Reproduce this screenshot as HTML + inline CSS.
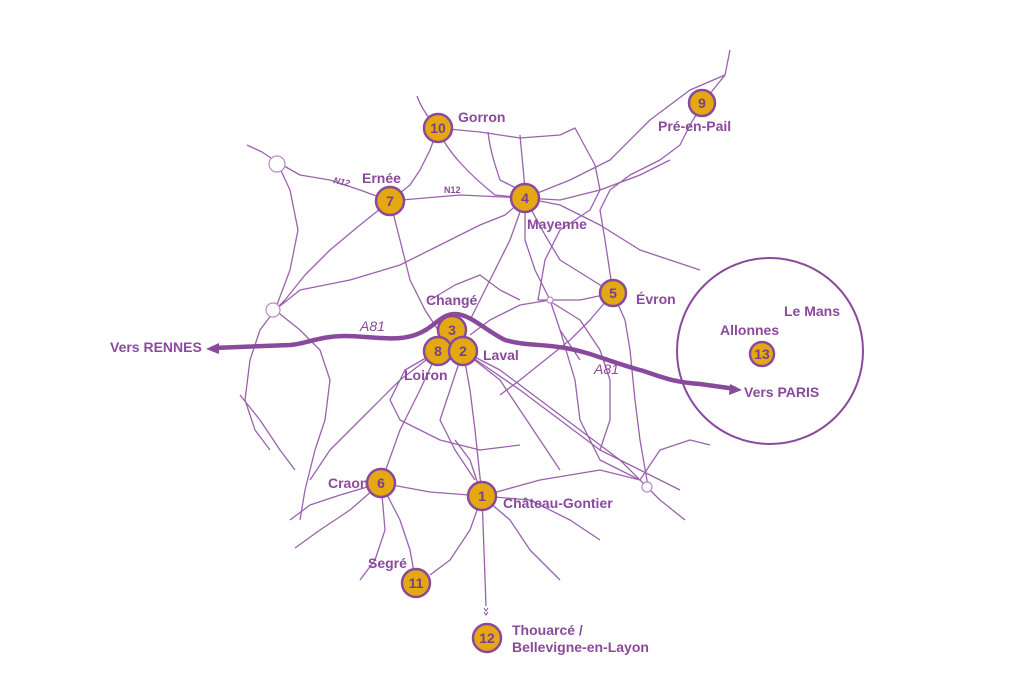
<!DOCTYPE html>
<html><head><meta charset="utf-8"><style>
html,body{margin:0;padding:0;background:#fff;}
svg{display:block}
text{font-family:"Liberation Sans",sans-serif;font-weight:bold;fill:#8a4a9c;}
.r{fill:none;stroke:#9a62ad;stroke-width:1.3;stroke-linejoin:round}
.n circle{fill:#e4a812;stroke:#8a4a9c;stroke-width:2.5}
.n text{fill:#7a3f8c;font-size:14px;text-anchor:middle}
.l{font-size:14px}
</style></head><body>
<svg width="1024" height="678" viewBox="0 0 1024 678">
<g class="r">
<path d="M417,96 C422,110 430,120 438,128"/>
<path d="M438,128 L480,132 L520,138 L560,135 L575,128 L595,165 L600,190 L590,210 L560,230 L545,260 L538,300 L548,300"/>
<path d="M438,128 C445,150 470,175 495,195 L525,198"/>
<path d="M488,132 C490,150 495,165 500,180 L520,190"/>
<path d="M520,135 C522,160 525,180 525,198"/>
<path d="M438,128 L430,150 L420,170 L410,185 L390,201"/>
<path d="M247,145 L262,152 L277,162 L300,175 L330,180 L360,190 L390,201"/>
<path d="M390,201 L460,195 L525,198"/>
<path d="M525,198 L570,180 L610,160 L650,120 L690,90 L725,75 L730,50"/>
<path d="M725,75 L705,100 L690,125 L680,145 L660,160 L630,175 L610,190 L600,210 L605,240 L613,293"/>
<path d="M525,198 L560,200 L600,190 L640,175 L670,160"/>
<path d="M525,198 L560,205 L600,225 L640,250 L670,260 L700,270"/>
<path d="M525,198 L545,235 L560,260 L613,293"/>
<path d="M525,198 L510,240 L490,280 L470,320"/>
<path d="M525,198 L525,240 L535,270 L550,300 L560,330 L580,360"/>
<path d="M525,198 L505,215 L480,225 L440,245 L400,265 L350,280 L300,290 L275,310"/>
<path d="M390,201 L360,225 L330,250 L305,275 L285,300 L275,310"/>
<path d="M277,162 L290,190 L298,230 L290,270 L275,310"/>
<path d="M390,201 L400,240 L410,280 L425,310 L438,330"/>
<path d="M275,310 L260,330 L250,360 L245,400 L255,430 L270,450"/>
<path d="M275,310 L300,330 L320,350"/>
<path d="M613,293 L580,300 L550,300 L520,305 L490,320 L470,335"/>
<path d="M613,293 L590,320 L570,340 L545,360 L520,380 L500,395"/>
<path d="M613,293 L625,320 L630,350 L635,400 L640,440 L648,486"/>
<path d="M548,300 L580,320 L600,350 L610,380 L610,420 L600,450"/>
<path d="M430,300 L455,285 L480,275 L500,290 L520,300"/>
<path d="M463,351 L500,370 L540,400 L580,430 L620,460 L660,500 L685,520"/>
<path d="M463,351 L470,390 L475,430 L482,496"/>
<path d="M463,351 L450,390 L440,420 L455,450 L475,480"/>
<path d="M463,351 L500,380 L520,410 L540,440 L560,470"/>
<path d="M463,351 L520,390 L560,420 L600,450 L640,470 L680,490"/>
<path d="M438,351 L400,380 L360,420 L330,450 L310,480"/>
<path d="M438,351 L420,390 L400,430 L381,483"/>
<path d="M438,351 L405,370 L390,400 L400,420 L440,440 L480,450 L520,445"/>
<path d="M320,350 L330,380 L325,420 L315,450 L305,490 L300,520"/>
<path d="M240,395 L260,420 L280,450 L295,470"/>
<path d="M560,330 L575,380 L580,420 L600,460 L640,480"/>
<path d="M640,480 L660,450 L690,440 L710,445"/>
<path d="M381,483 L350,510 L320,530 L295,548"/>
<path d="M381,483 L340,495 L310,505 L290,520"/>
<path d="M381,483 L430,492 L482,496"/>
<path d="M381,483 L400,520 L410,550 L416,583"/>
<path d="M381,483 L385,530 L375,560 L360,580"/>
<path d="M482,496 L470,530 L450,560 L430,575"/>
<path d="M482,496 L510,520 L530,550 L560,580"/>
<path d="M482,496 L540,480 L600,470 L640,480"/>
<path d="M482,496 L530,500 L570,520 L600,540"/>
<path d="M482,496 L486,606"/>
<path d="M482,496 L470,460 L455,440"/>
</g>
<g fill="#fff" stroke="#b88cc8" stroke-width="1.2">
<circle cx="277" cy="164" r="8"/><circle cx="273" cy="310" r="7"/><circle cx="550" cy="300" r="3"/><circle cx="647" cy="487" r="5"/>
</g>
<path d="M484,608 l2,3 l2,-3 M484,612 l2,3 l2,-3" stroke="#8a4a9c" fill="none" stroke-width="1"/>
<circle cx="770" cy="351" r="93" fill="none" stroke="#8a4a9c" stroke-width="2"/>
<path d="M213,348 L290,345 C305,344 320,336 345,336 C370,336 395,342 415,335 C435,328 440,314 455,314 C470,314 485,330 505,340 C525,346 545,344 565,348 C590,352 610,362 640,370 C660,376 670,382 700,384 L736,389" fill="none" stroke="#8a4a9c" stroke-width="4.5"/>
<path d="M206,349 l13,-6 l0,11 z" fill="#8a4a9c"/>
<path d="M742,390 l-13,5 l1,-11 z" fill="#8a4a9c"/>
<g class="n">
<g><circle cx="438" cy="128" r="14"/><text x="438" y="133">10</text></g>
<g><circle cx="702" cy="103" r="13"/><text x="702" y="108">9</text></g>
<g><circle cx="390" cy="201" r="14"/><text x="390" y="206">7</text></g>
<g><circle cx="525" cy="198" r="14"/><text x="525" y="203">4</text></g>
<g><circle cx="613" cy="293" r="13"/><text x="613" y="298">5</text></g>
<g><circle cx="452" cy="330" r="14"/><text x="452" y="335">3</text></g>
<g><circle cx="438" cy="351" r="14"/><text x="438" y="356">8</text></g>
<g><circle cx="463" cy="351" r="14"/><text x="463" y="356">2</text></g>
<g><circle cx="381" cy="483" r="14"/><text x="381" y="488">6</text></g>
<g><circle cx="482" cy="496" r="14"/><text x="482" y="501">1</text></g>
<g><circle cx="416" cy="583" r="14"/><text x="416" y="588">11</text></g>
<g><circle cx="487" cy="638" r="14"/><text x="487" y="643">12</text></g>
<g><circle cx="762" cy="354" r="12"/><text x="762" y="359">13</text></g>
</g>
<g class="l">
<text x="458" y="122">Gorron</text>
<text x="658" y="131">Pré-en-Pail</text>
<text x="362" y="183">Ernée</text>
<text x="527" y="229">Mayenne</text>
<text x="636" y="304">Évron</text>
<text x="426" y="305">Changé</text>
<text x="483" y="360">Laval</text>
<text x="404" y="380">Loiron</text>
<text x="328" y="488">Craon</text>
<text x="503" y="508">Château-Gontier</text>
<text x="368" y="568">Segré</text>
<text x="512" y="635">Thouarcé /</text>
<text x="512" y="652">Bellevigne-en-Layon</text>
<text x="784" y="316">Le Mans</text>
<text x="720" y="335">Allonnes</text>
<text x="110" y="352">Vers RENNES</text>
<text x="744" y="397">Vers PARIS</text>
</g>
<text x="360" y="331" style="font-size:14px;font-style:italic;font-weight:normal">A81</text>
<text x="594" y="374" style="font-size:14px;font-style:italic;font-weight:normal">A81</text>
<text x="333" y="183" style="font-size:9px;font-style:italic" transform="rotate(12 333 183)">N12</text>
<text x="444" y="193" style="font-size:9px">N12</text>
</svg>
</body></html>
